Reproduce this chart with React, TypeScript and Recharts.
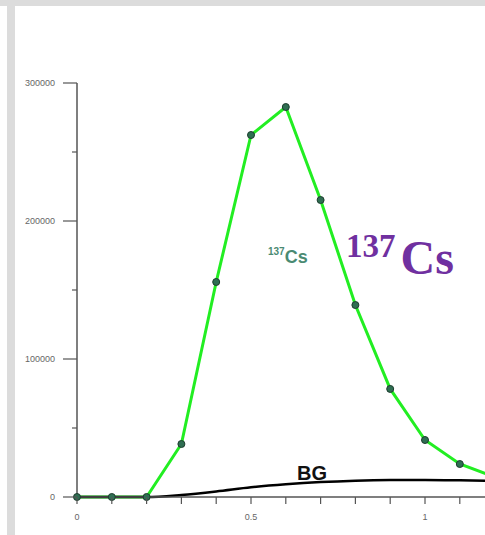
import React from 'react';
import { LineChart, Line, XAxis, YAxis } from 'recharts';

// energy axis (positions where the counts were sampled)
const energies = [0, 0.1, 0.2, 0.3, 0.4, 0.5, 0.6, 0.7, 0.8, 0.9, 1.0, 1.1, 1.2];
// 137Cs spectrum counts
const csCounts = [0, 0, 0, 38400, 155800, 262300, 282600, 215200, 139100, 78300, 41300, 23900, 14500];
// background counts
const bgCounts = [0, 0, 0, 1500, 4000, 7000, 9200, 10800, 11800, 12300, 12400, 12100, 11600];

const xTicks = [0, 0.1, 0.2, 0.3, 0.4, 0.5, 0.6, 0.7, 0.8, 0.9, 1, 1.1, 1.2];
const xLabels = [0, 0.5, 1];
const yTicks = [0, 50000, 100000, 150000, 200000, 250000, 300000];

const data = energies.map((e, i) => ({ e, cs: csCounts[i], bg: bgCounts[i] }));

const axisColor = '#555';

const XTick = (props: any) => {
    const { x, y, payload } = props;
    const v = Math.round(payload.value * 10) / 10;
    const show = xLabels.includes(v);
    return (
        <g>
            <line x1={x} x2={x} y1={y} y2={y + 7} stroke={axisColor} strokeWidth={1.2} />
            {show && (
                <text x={x} y={y + 23} textAnchor="middle" fontSize={9} fill="#666" fontFamily="Arial, 'Liberation Sans'">
                    {v}
                </text>
            )}
        </g>
    );
};

const YTick = (props: any) => {
    const { x, y, payload } = props;
    const major = payload.value % 100000 === 0;
    return (
        <g>
            <line x1={x - (major ? 14 : 5)} x2={x} y1={y} y2={y} stroke={axisColor} strokeWidth={1.2} />
            {major && (
                <text x={x - 22} y={y + 3} textAnchor="end" fontSize={9} fill="#666" fontFamily="Arial, 'Liberation Sans'">
                    {payload.value}
                </text>
            )}
        </g>
    );
};

export default function App() {
    return (
        <div style={{ position: 'absolute', left: 0, top: 0, width: 485, height: 535, overflow: 'hidden', background: '#fff' }}>
            <div style={{ position: 'absolute', left: 0, top: 0, width: 485, height: 6, background: '#dcdcdc' }} />
            <div style={{ position: 'absolute', left: 7, top: 6, width: 8, height: 529, background: '#dcdcdc' }} />
            <div style={{ position: 'absolute', left: 0, top: 0 }}>
                <LineChart width={560} height={535} data={data} margin={{ top: 83, right: 48, bottom: 0, left: 0 }}>
                    <XAxis
                        dataKey="e"
                        type="number"
                        domain={[0, 1.25]}
                        ticks={xTicks}
                        interval={0}
                        height={38}
                        tickSize={0}
                        tickMargin={0}
                        tickLine={false}
                        axisLine={{ stroke: axisColor, strokeWidth: 1.5 }}
                        tick={<XTick />}
                    />
                    <YAxis
                        type="number"
                        domain={[0, 300000]}
                        ticks={yTicks}
                        interval={0}
                        width={77}
                        tickSize={0}
                        tickMargin={0}
                        tickLine={false}
                        axisLine={{ stroke: axisColor, strokeWidth: 1.5 }}
                        tick={<YTick />}
                    />
                    <Line dataKey="cs" type="linear" stroke="#22ee22" strokeWidth={3} dot={false} isAnimationActive={false} />
                    <Line dataKey="bg" type="monotone" stroke="#000" strokeWidth={2.5} dot={false} isAnimationActive={false} />
                    <Line
                        dataKey="cs"
                        type="linear"
                        stroke="none"
                        dot={{ r: 3.5, fill: '#2f6e52', stroke: '#1d3d2e', strokeWidth: 1 }}
                        isAnimationActive={false}
                    />
                </LineChart>
            </div>
            <svg width={485} height={535} style={{ position: 'absolute', left: 0, top: 0, pointerEvents: 'none' }}>
                <text x={268} y={263} fill="#4a8a72" fontFamily="Arial, 'Liberation Sans'" fontWeight="bold">
                    <tspan fontSize={10} dy={-8}>137</tspan>
                    <tspan fontSize={18} dy={8}>Cs</tspan>
                </text>
                <text x={346} y={274} fill="#7030a0" fontFamily="'Liberation Serif', 'Times New Roman', serif" fontWeight="bold">
                    <tspan fontSize={33} dy={-17}>137</tspan>
                    <tspan fontSize={48} dy={17} dx={5}>Cs</tspan>
                </text>
                <text x={297} y={480} fill="#111" fontFamily="Arial, 'Liberation Sans'" fontWeight="bold" fontSize={20}>
                    BG
                </text>
            </svg>
        </div>
    );
}
